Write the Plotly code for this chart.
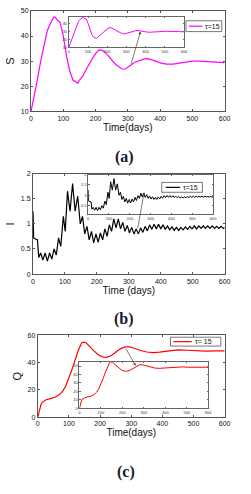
import plotly.graph_objects as go

W, H = 251, 494

# ---------------- data ----------------
t_S = [0, 10, 20, 30, 40, 50, 60, 70, 75, 80, 90, 100, 110, 120, 130, 140, 145, 150, 160, 170,
       180, 190, 200, 210, 220, 230, 240, 250, 260, 270, 280, 290, 300, 310, 320, 330, 340, 350,
       360, 370, 380, 390, 400, 420, 440, 460, 480, 500, 520, 540, 560, 580, 600]
S_vals = [10, 16, 23, 30, 36, 42, 45, 47.5, 47.5, 46.5, 45.5, 40, 32, 26, 22.5, 21.5, 21.3, 22.5, 24, 26.5,
          29, 31, 33, 34.5, 34.3, 33.5, 32, 30.5, 29, 28, 27, 26.8, 27.5, 28.5, 29.5, 30, 30.5, 30.8,
          31, 30.8, 30.3, 29.8, 29.3, 28.8, 28.8, 29.2, 29.7, 30, 30, 29.8, 29.6, 29.5, 29.4]

t_I = [0, 2, 14, 18, 24, 31, 38, 45, 52, 59, 66, 73, 80, 87, 95, 101, 108, 116, 124, 132,
       140, 148, 155, 162, 169, 176, 183, 190, 197, 204, 211, 218, 225, 232, 239, 246, 253, 260,
       267, 274, 281, 288, 295, 302, 309, 316, 323, 330, 337, 344, 351, 358, 365, 372, 379, 386,
       393, 400, 407, 414, 421, 428, 435, 442, 449, 456, 463, 470, 477, 484, 491, 498, 505, 512,
       519, 526, 533, 540, 547, 554, 561, 568, 575, 582, 589, 596, 600]
I_vals = [1.25, 0.72, 0.68, 0.33, 0.42, 0.28, 0.42, 0.26, 0.42, 0.30, 0.50, 0.38, 0.72, 0.55, 1.15, 0.85,
          1.65, 1.25, 1.80, 1.25, 1.55, 1.00, 1.15, 0.80, 0.95, 0.68, 0.85, 0.62, 0.80, 0.63, 0.82,
          0.68, 0.90, 0.75, 0.98, 0.85, 1.10, 0.92, 1.10, 0.90, 1.03, 0.85, 0.97, 0.82, 0.93, 0.80,
          0.90, 0.80, 0.92, 0.83, 0.95, 0.86, 0.98, 0.89, 0.99, 0.90, 0.99, 0.90, 0.98, 0.89, 0.96,
          0.88, 0.94, 0.87, 0.93, 0.87, 0.93, 0.88, 0.94, 0.89, 0.95, 0.90, 0.96, 0.90, 0.96, 0.91,
          0.96, 0.91, 0.96, 0.91, 0.96, 0.91, 0.95, 0.91, 0.95, 0.91, 0.93]

t_Q = [0, 5, 10, 15, 25, 40, 55, 70, 80, 90, 100, 110, 120, 130, 140, 145, 155, 165, 180, 195,
       210, 220, 235, 250, 265, 280, 295, 310, 330, 350, 370, 390, 410, 430, 450, 480, 510, 540,
       570, 600]
Q_vals = [0, 5, 9, 11, 12.5, 13.5, 14.5, 16.5, 19, 23, 28.5, 35, 42, 49, 54, 55, 54.5, 52, 48.5, 45.5,
          44, 43.8, 45, 47.5, 50, 51.5, 51.5, 50.5, 48.8, 47.7, 47.3, 47.6, 48.3, 49, 49.2, 49, 48.6, 48.4,
          48.5, 48.6]

x_ticks = [0, 100, 200, 300, 400, 500, 600]
S_ticks = [10, 20, 30, 40, 50]
S_inset_ticks = [10, 20, 30, 40]
I_ticks = [0, 0.5, 1, 1.5, 2]
I_tick_text = ["0", "0.5", "1", "1.5", "2"]
Q_ticks = [0, 20, 40, 60]
Q_inset_ticks = [0, 10, 20, 30, 40, 50]
legend_label = "\u03c4=15"
legend_label_c = "\u03c4= 15"

# -------------- helpers ---------------
def px_x(p):
    return p / W

def px_y(p):
    return 1 - p / H

AX_COL = "#555555"
FONT = "Liberation Sans, Arial, sans-serif"

fig = go.Figure()

panels = [
    dict(t=t_S, v=S_vals, color="#ff00ff", main=(30, 230, 7, 109), inset=(69, 188, 13, 44),
         yr=[10, 50], yri=[10, 48], yt=S_ticks, ytt=[str(v) for v in S_ticks],
         yti=S_inset_ticks, ytti=[str(v) for v in S_inset_ticks], ytitle="S", xtitle="Time(days)"),
    dict(t=t_I, v=I_vals, color="#000000", main=(32, 230, 172, 274), inset=(89, 218, 173, 213),
         yr=[0, 2], yri=[0.1, 2], yt=I_ticks, ytt=I_tick_text,
         yti=I_ticks[1:], ytti=I_tick_text[1:], ytitle="I", xtitle="Time (days)"),
    dict(t=t_Q, v=Q_vals, color="#ff0000", main=(37, 230, 336, 419), inset=(80, 213, 363, 410),
         yr=[0, 60], yri=[0, 55], yt=Q_ticks, ytt=[str(v) for v in Q_ticks],
         yti=Q_inset_ticks, ytti=[str(v) for v in Q_inset_ticks], ytitle="Q", xtitle="Time(days)"),
]

layout = {}
for i, p in enumerate(panels):
    km = 2 * i + 1
    ki = 2 * i + 2
    xm = "x" if km == 1 else f"x{km}"
    ym = "y" if km == 1 else f"y{km}"
    xi = f"x{ki}"
    yi = f"y{ki}"
    fig.add_trace(go.Scatter(x=p["t"], y=p["v"], mode="lines", line=dict(color=p["color"], width=1.2),
                             xaxis=xm, yaxis=ym, showlegend=False, hoverinfo="skip"))
    fig.add_trace(go.Scatter(x=p["t"], y=p["v"], mode="lines", line=dict(color=p["color"], width=1.0),
                             xaxis=xi, yaxis=yi, showlegend=False, hoverinfo="skip"))
    l, r, tp, b = p["main"]
    common = dict(showgrid=False, zeroline=False, showline=True, linecolor=AX_COL, linewidth=1,
                  mirror="ticks", ticks="inside", tickcolor=AX_COL, ticklen=2)
    layout["xaxis" if km == 1 else f"xaxis{km}"] = dict(
        common, domain=[px_x(l), px_x(r)], anchor=ym, range=[0, 600], tickvals=x_ticks,
        tickfont=dict(size=7, family=FONT, color="#111"),
        title=dict(text=p["xtitle"], font=dict(size=10, family=FONT, color="#111"), standoff=1))
    layout["yaxis" if km == 1 else f"yaxis{km}"] = dict(
        common, domain=[px_y(b), px_y(tp)], anchor=xm, range=p["yr"], tickvals=p["yt"], ticktext=p["ytt"],
        tickfont=dict(size=7, family=FONT, color="#111"),
        title=dict(text=p["ytitle"], font=dict(size=11, family=FONT, color="#111"), standoff=3))
    il, ir, it, ib = p["inset"]
    common_i = dict(showgrid=False, zeroline=False, showline=True, linecolor="#666", linewidth=0.8,
                    mirror="ticks", ticks="inside", tickcolor="#666", ticklen=1.5)
    layout[f"xaxis{ki}"] = dict(
        common_i, domain=[px_x(il), px_x(ir)], anchor=yi, range=[0, 600], tickvals=x_ticks,
        tickfont=dict(size=4, family=FONT, color="#333"))
    layout[f"yaxis{ki}"] = dict(
        common_i, domain=[px_y(ib), px_y(it)], anchor=xi, range=p["yri"], tickvals=p["yti"],
        ticktext=p["ytti"], tickfont=dict(size=4, family=FONT, color="#333"))

fig.update_layout(**layout)

shapes = []
annotations = []

# legends (manual)
legends = [
    (190, 227, 17, 28, "#ff00ff", 193, 207, legend_label),
    (165, 207, 181, 191, "#000000", 169, 184, legend_label),
    (174, 226, 338, 347, "#ff0000", 177, 196, legend_label_c),
]
for (l, r, tp, b, col, l0, l1, txt) in legends:
    shapes.append(dict(type="rect", xref="paper", yref="paper", x0=px_x(l), x1=px_x(r),
                       y0=px_y(b), y1=px_y(tp), fillcolor="white", line=dict(color="#555", width=0.8)))
    ymid = px_y((tp + b) / 2)
    shapes.append(dict(type="line", xref="paper", yref="paper", x0=px_x(l0), x1=px_x(l1),
                       y0=ymid, y1=ymid, line=dict(color=col, width=1.2)))
    annotations.append(dict(xref="paper", yref="paper", x=px_x(l1 + 1), y=ymid, xanchor="left",
                            yanchor="middle", text=txt, showarrow=False,
                            font=dict(size=7, family=FONT, color="#111")))

# arrows (head inside inset, tail on main curve) in main-axis data coordinates
arrows = [
    ("x", "y", 339, 41.8, 309, 28.4),
    ("x3", "y3", 348, 1.63, 327, 0.88),
    ("x5", "y5", 314, 37.6, 280, 51.3),
]
for xr, yr, hx, hy, tx, ty in arrows:
    annotations.append(dict(xref=xr, yref=yr, axref=xr, ayref=yr, x=hx, y=hy, ax=tx, ay=ty,
                            showarrow=True, arrowhead=2, arrowsize=0.8, arrowwidth=0.7,
                            arrowcolor="#444", text=""))

# panel labels
for lab, yy, xx in [("(a)", 155, 127), ("(b)", 320, 126), ("(c)", 475, 128)]:
    annotations.append(dict(xref="paper", yref="paper", x=px_x(xx), y=px_y(yy), xanchor="center",
                            yanchor="middle", text=f"<b>{lab}</b>", showarrow=False,
                            font=dict(size=16, family="Liberation Serif, Times New Roman, serif",
                                      color="#1a1a2e")))

fig.update_layout(shapes=shapes, annotations=annotations, width=W, height=H,
                  margin=dict(l=0, r=0, t=0, b=0), paper_bgcolor="white", plot_bgcolor="white",
                  showlegend=False)

fig.write_html("out.html", config={"displayModeBar": False},
               post_script="document.body.style.margin='0';document.body.style.overflow='hidden';")
